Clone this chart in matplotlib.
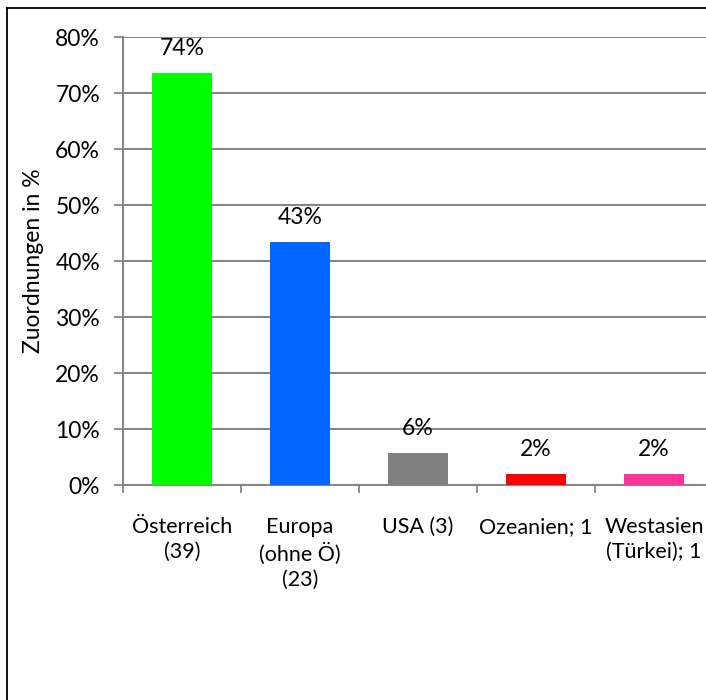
import matplotlib
matplotlib.use('Agg')
import matplotlib.pyplot as plt
from matplotlib.lines import Line2D
from matplotlib.ticker import FuncFormatter

plt.rcParams['font.family'] = ['Lato', 'DejaVu Sans']

categories = ['Österreich\n(39)', 'Europa\n(ohne Ö)\n(23)', 'USA (3)', 'Ozeanien; 1', 'Westasien\n(Türkei); 1']
percent = [73.6, 43.4, 5.7, 1.9, 1.9]
value_labels = ['74%', '43%', '6%', '2%', '2%']
bar_colors = ['#00ff00', '#0066ff', '#808080', '#ff0000', '#ff3399']
y_ticks = [0, 10, 20, 30, 40, 50, 60, 70, 80]

W, H = 706, 700
fig = plt.figure(figsize=(W / 100, H / 100), dpi=100)
# plot area runs a bit past the right edge, like the cropped original
ax = fig.add_axes([123 / W, (H - 485) / H, 590 / W, (485 - 37) / H])

x = range(len(categories))
ax.bar(x, percent, width=0.51, color=bar_colors, zorder=3)
for xi, v, lbl in zip(x, percent, value_labels):
    ax.annotate(lbl, (xi, v), xytext=(0, 10), textcoords='offset points',
                ha='center', va='bottom', fontsize=16.5, color='#000000')

ax.set_xlim(-0.5, len(categories) - 0.5)
ax.set_ylim(0, 80)
ax.set_yticks(y_ticks)
ax.yaxis.set_major_formatter(FuncFormatter(lambda v, p: '%d%%' % v))
ax.set_xticks([i - 0.5 for i in range(len(categories) + 1)])
ax.set_xticklabels([])
ax.set_xticks(list(x), minor=True)
ax.set_xticklabels(categories, minor=True, fontsize=15.5, linespacing=1.32, va='top')
ax.tick_params(axis='x', which='minor', length=0, pad=23)
ax.tick_params(axis='x', which='major', length=6, width=1.3, color='#868686', direction='out')
ax.tick_params(axis='y', length=6.5, width=1.3, color='#868686', direction='out', labelsize=16.5, pad=10)
ax.grid(axis='y', color='#868686', linewidth=1.5, zorder=0)
for s in ['top', 'right']:
    ax.spines[s].set_visible(False)
for s in ['left', 'bottom']:
    ax.spines[s].set_color('#868686')
    ax.spines[s].set_linewidth(1.5)
ax.set_ylabel('Zuordnungen in %', fontsize=16.5)
ax.yaxis.set_label_coords(-79 / 590, 0.5)

# chart area border (only top and left show in the crop)
fig.add_artist(Line2D([7 / W, 1], [1 - 8 / H, 1 - 8 / H], color='black', linewidth=1.3, transform=fig.transFigure))
fig.add_artist(Line2D([7 / W, 7 / W], [0, 1 - 8 / H], color='black', linewidth=1.3, transform=fig.transFigure))

fig.savefig('out.png', dpi=100, facecolor='white', bbox_inches=None)
